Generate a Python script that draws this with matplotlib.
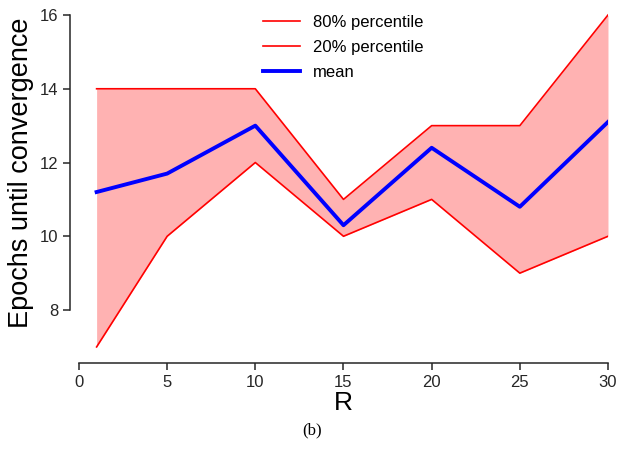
import numpy as np
import matplotlib
matplotlib.use("Agg")
import matplotlib.pyplot as plt

R = [1, 5, 10, 15, 20, 25, 30]
p80 = [14, 14, 14, 11, 13, 13, 16]
p20 = [7, 10, 12, 10, 11, 9, 10]
mean = [11.2, 11.7, 13.0, 10.3, 12.4, 10.8, 13.1]

plt.rcParams['font.family'] = ['Liberation Sans', 'DejaVu Sans']

fig = plt.figure(figsize=(6.17, 4.51), dpi=100)
ax = fig.add_axes([0.128, 0.2226, 0.8574, 0.7523])

ax.fill_between(R, p20, p80, color="red", alpha=0.3, linewidth=0)
ax.plot(R, p80, color="red", lw=1.2, label="80% percentile")
ax.plot(R, p20, color="red", lw=1.2, label="20% percentile")
ax.plot(R, mean, color="blue", lw=2.8, label="mean")

ax.set_xlim(0, 30)
ax.set_ylim(6.9, 16.1)
ax.set_xticks([0, 5, 10, 15, 20, 25, 30])
ax.set_yticks([8, 10, 12, 14, 16])

for s in ["top", "right"]:
    ax.spines[s].set_visible(False)
ax.spines["left"].set_position(("outward", 6.5))
ax.spines["bottom"].set_position(("outward", 9))
ax.spines["left"].set_bounds(8, 16)
ax.spines["bottom"].set_bounds(0, 30)
for s in ["left", "bottom"]:
    ax.spines[s].set_color("#262626")
    ax.spines[s].set_linewidth(1.1)
ax.tick_params(direction="out", length=5, width=1.1, color="#262626",
               labelcolor="#262626", labelsize=12)

ax.set_xlabel("R", fontsize=19, labelpad=1)
# y label placed on the figure so it sits where the original has it
fig.text(21 / 617, 1 - 173 / 451, "Epochs until convergence", fontsize=19.5,
         rotation=90, ha="center", va="center")

ax.legend(loc="upper center", frameon=False, fontsize=12,
          handlelength=2.2, borderaxespad=0.0, labelspacing=0.62,
          bbox_to_anchor=(0.5, 1.01))

fig.text(0.505, 0.045, "(b)", fontsize=12, family=["Liberation Serif", "DejaVu Serif"],
         ha="center", va="center")

fig.savefig("out.png", dpi=100)
